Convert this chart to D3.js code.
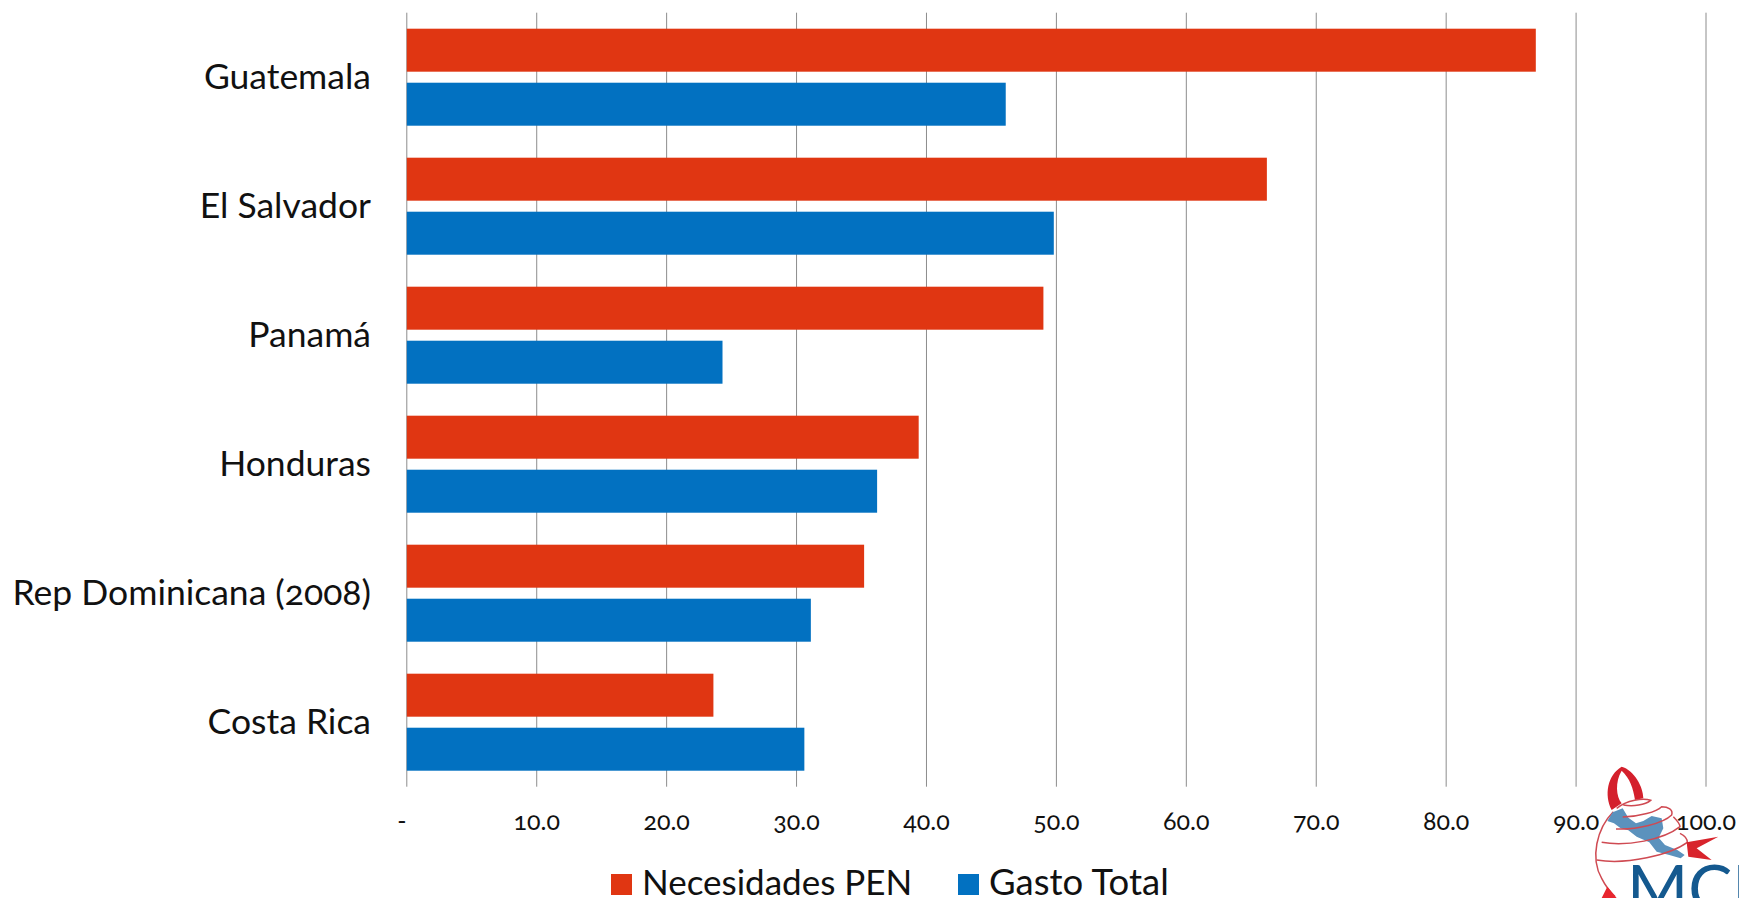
<!DOCTYPE html>
<html>
<head>
<meta charset="utf-8">
<script src="https://cdnjs.cloudflare.com/ajax/libs/d3/7.8.5/d3.min.js"></script>
<style>
  html, body { margin: 0; padding: 0; background: #fff; overflow: hidden; }
  svg { display: block; }
  text { font-family: Lato, "Open Sans", sans-serif; fill: #111; font-variant-numeric: oldstyle-nums; font-feature-settings: "onum" 1; }
</style>
</head>
<body>
<svg id="chart" width="1739" height="898"></svg>
<script>
const categories = ["Guatemala", "El Salvador", "Panamá", "Honduras", "Rep Dominicana (2008)", "Costa Rica"];
const necesidades = [86.9, 66.2, 49.0, 39.4, 35.2, 23.6];
const gasto = [46.1, 49.8, 24.3, 36.2, 31.1, 30.6];
const seriesNames = ["Necesidades PEN", "Gasto Total"];
const seriesColors = ["#e03612", "#0271c1"];
const xTicks = [0, 10, 20, 30, 40, 50, 60, 70, 80, 90, 100];

const svg = d3.select("#chart");

const x = d3.scaleLinear().domain([0, 100]).range([406.8, 1706]);
const y = d3.scaleBand().domain(categories).range([12.7, 786.7]).paddingInner(0.248).paddingOuter(0.124);
const inner = d3.scaleBand().domain([0, 1]).range([0, y.bandwidth()]).paddingInner(0.204);

// gridlines
svg.append("g")
  .selectAll("line")
  .data(xTicks)
  .enter()
  .append("line")
  .attr("x1", (d) => x(d))
  .attr("x2", (d) => x(d))
  .attr("y1", 12.7)
  .attr("y2", 786.7)
  .attr("stroke", "#8c8c8c")
  .attr("stroke-width", 1);

// bars
[necesidades, gasto].forEach((values, s) => {
  svg.append("g")
    .selectAll("rect")
    .data(values)
    .enter()
    .append("rect")
    .attr("x", x(0))
    .attr("y", (d, i) => y(categories[i]) + inner(s))
    .attr("width", (d) => x(d) - x(0))
    .attr("height", inner.bandwidth())
    .attr("fill", seriesColors[s]);
});

// category labels
svg.append("g")
  .selectAll("text")
  .data(categories)
  .enter()
  .append("text")
  .attr("x", 371)
  .attr("y", (d) => y(d) + y.bandwidth() / 2)
  .attr("dy", "0.32em")
  .attr("text-anchor", "end")
  .style("font-size", "35.5px")
  .text((d) => d);

// value axis labels
svg.append("g")
  .selectAll("text")
  .data(xTicks)
  .enter()
  .append("text")
  .attr("x", (d) => (d === 0 ? x(d) - 5 : x(d)))
  .attr("y", 822)
  .attr("dy", "0.32em")
  .attr("text-anchor", "middle")
  .style("font-size", "25px")
  .text((d) => (d === 0 ? "-" : d.toFixed(1)));

// legend
const legendX = [611, 958];
const legendSize = [35, 36.5];
seriesNames.forEach((name, i) => {
  svg.append("rect")
    .attr("x", legendX[i])
    .attr("y", 874)
    .attr("width", 21)
    .attr("height", 21)
    .attr("fill", seriesColors[i]);
  svg.append("text")
    .attr("x", legendX[i] + 31)
    .attr("y", 895)
    .style("font-size", `${legendSize[i]}px`)
    .text(name);
});

// logo, bottom right corner (drawn over the axis labels)
const logo = svg.append("g").attr("transform", "translate(1580,755) scale(0.3333)").attr("fill", "none");
logo.append("path")
  .attr("d", "M95 165C72 120 82 60 125 35C162 45 190 95 190 130L165 135C160 100 150 70 125 47C105 80 108 125 125 145Z")
  .attr("fill", "#d4202c");
logo.append("path")
  .attr("d", "M100 170C50 220 30 310 65 370C75 390 90 410 105 425")
  .attr("stroke", "#cf4a52")
  .attr("stroke-width", 4.5);
logo.append("path")
  .attr("d", "M82 198L98 172L128 160L145 188L168 205L190 198L215 183L245 190L250 220L236 248L255 270L292 285L314 300L302 310L268 300L230 290L208 262L170 245L145 226L122 220L102 205Z")
  .attr("fill", "#5b92bd");
logo.append("path")
  .attr("d", "M130 150C160 155 195 150 212 136C190 128 140 135 110 160M128 186C180 185 230 170 245 155C265 155 280 165 275 180C250 205 170 225 108 222M65 262C140 275 250 255 300 215C300 205 290 195 280 185M50 315C140 330 270 300 322 262C322 250 310 240 300 235")
  .attr("stroke", "#cf4a52")
  .attr("stroke-width", 4.5);
logo.append("path")
  .attr("d", "M320 262L415 245L350 280L395 315L325 305Z")
  .attr("fill", "#d8242c");
logo.append("path")
  .attr("d", "M65 429L82 395L110 429Z")
  .attr("fill", "#e8262e");
logo.append("text")
  .attr("x", 1627)
  .attr("y", 912)
  .attr("transform", "scale(3) translate(-1580,-755)")
  .style("font-size", "66px")
  .style("fill", "#14598f")
  .text("MCR");
</script>
</body>
</html>
